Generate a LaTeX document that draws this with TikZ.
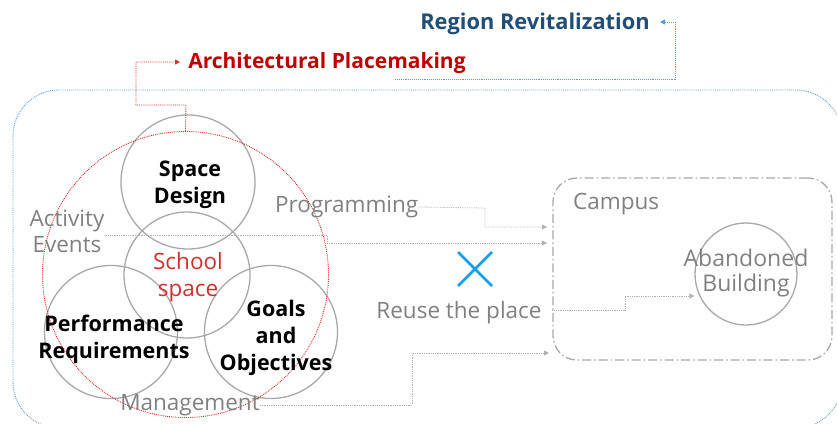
\documentclass[tikz,border=0pt]{standalone}
\usepackage{fontspec}
\setmainfont{Open Sans}
\usetikzlibrary{arrows.meta}
\definecolor{regblue}{HTML}{1F4E79}
\definecolor{archred}{HTML}{C00000}
\definecolor{schoolred}{HTML}{D03030}
\definecolor{circred}{HTML}{E02828}
\definecolor{txtgray}{HTML}{808080}
\definecolor{circgray}{HTML}{A8A8A8}
\definecolor{linegray}{HTML}{B0B0B0}
\definecolor{frameblue}{HTML}{5B9BD5}
\definecolor{xblue}{HTML}{12A0EA}
\tikzset{
  gcirc/.style={circle, draw=circgray, line width=1.3pt, inner sep=0pt},
  blacktxt/.style={font=\fontsize{21.5}{27}\selectfont\bfseries, text=black, align=center, inner sep=0pt},
  graytxt/.style={font=\fontsize{22.5}{26}\selectfont, text=txtgray, align=center, inner sep=0pt},
  conn/.style={draw=linegray, densely dotted, line width=0.8pt, -{Triangle[length=5pt,width=5pt]}},
}
\begin{document}
\begin{tikzpicture}[x=1pt,y=-1pt]
\useasboundingbox (0,0) rectangle (837,423);
\clip (0,0) rectangle (837,423);
% big blue frame
\draw[frameblue, densely dotted, line width=0.9pt, rounded corners=46pt] (13,90) rectangle (842,428);
% circles
\node[gcirc, minimum size=134pt] (sd) at (188,182) {};
\node[gcirc, minimum size=126pt] (ss) at (187,275) {};
\node[gcirc, minimum size=133pt] (pr) at (111,332) {};
\node[gcirc, minimum size=133pt] (go) at (271,332) {};
\node[circle, draw=circred, densely dotted, line width=0.9pt, minimum size=286pt, inner sep=0pt] (rc) at (185.5,274.5) {};
% campus
\node[draw=circgray, line width=1.3pt, rounded corners=24pt, dash pattern=on 9pt off 3pt on 1.5pt off 3pt,
      minimum width=279pt, minimum height=182pt, inner sep=0pt] (campus) at (692.5,269) {};
\node[gcirc, minimum size=102pt] (ab) at (746,274) {};
% texts
\node[font=\fontsize{21.8}{26}\selectfont\bfseries, text=regblue, inner sep=0pt] (rr) at (535,24) {Region Revitalization};
\node[font=\fontsize{21}{26}\selectfont\bfseries, text=archred, inner sep=0pt] (ap) at (327,63) {Architectural Placemaking};
\node[blacktxt] (sdt) at (190,184.5) {Space\\Design};
\node[graytxt] (act) at (67,231) {Activity\\Events};
\node[font=\fontsize{22.5}{27}\selectfont, text=schoolred, align=center, inner sep=0pt] (sst) at (188,277.5) {School\\space};
\node[blacktxt] (prt) at (114,339.5) {Performance\\Requirements};
\node[blacktxt] (got) at (276,337.5) {Goals\\and\\Objectives};
\node[graytxt, anchor=west] (prog) at (275,207) {Programming};
\node[graytxt] (mgmt) at (190,405) {Management};
\node[graytxt] (reuse) at (459,313) {Reuse the place};
\node[graytxt, anchor=west] (camp) at (573,204) {Campus};
\node[font=\fontsize{23}{25}\selectfont, text=txtgray, align=center, inner sep=0pt] (abt) at (746,273.5) {Abandoned\\Building};
% blue cross
\draw[xblue, line width=2.8pt] (458,252) -- (492,286) (458,286) -- (492,252);
% connectors
\coordinate (b0) at (395,79);
\coordinate (rrtip) at (660,22);
\draw[draw=frameblue, densely dotted, line width=0.9pt, -{Triangle[length=5pt,width=5pt]}]
  (b0) -- (675,79) -- (675,22) -- (rrtip);
\draw[draw=circred, densely dotted, line width=0.9pt, -{Triangle[length=5pt,width=5pt]}]
  (rc.north) -- (186,105) -- (136,105) -- (136,62) -- (180,62);
\draw[conn] (prog.east) -- (485,208) -- (485,227) -- (547,227);
\draw[conn] (act.east |- 0,235) -- (327,235) -- (327,243) -- (547,243);
\draw[conn] (campus.west |- 0,310) -- (625,310) -- (625,296) -- (ab.west |- 0,296);
\draw[conn] (mgmt.east) -- (412,405) -- (412,353) -- (549,353);
\end{tikzpicture}
\end{document}
